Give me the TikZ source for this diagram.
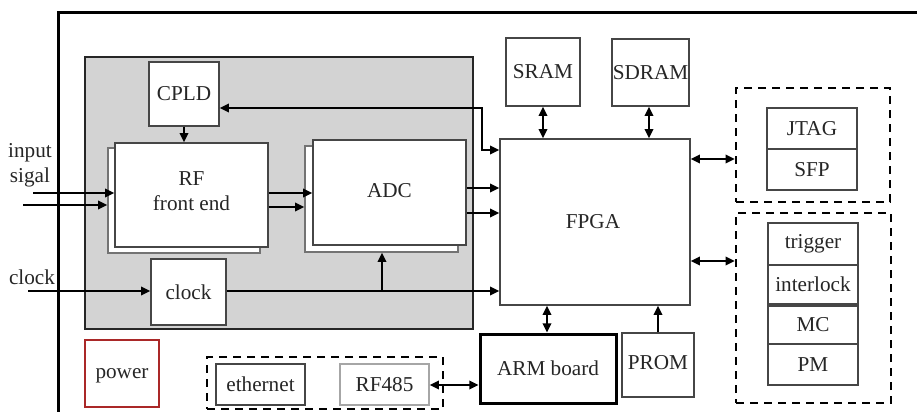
\documentclass[tikz,border=0pt]{standalone}
\usepackage{fontspec}
\setmainfont{Liberation Serif}
\usetikzlibrary{arrows.meta, fit}

\begin{document}
\begin{tikzpicture}[x=0.5pt, y=-0.5pt,
  font=\fontsize{10.6}{12.5}\selectfont, text=black!85,
  box/.style={draw=boxline, line width=0.6pt, fill=white, inner sep=0pt},
  grp/.style={draw=black, line width=1.3pt, dash pattern=on 4pt off 3pt, inner sep=0pt},
  sig/.style={line width=1pt, -{Triangle[length=4.6pt,width=4.2pt]}},
  bisig/.style={line width=1pt, {Triangle[length=4.6pt,width=4.2pt]}-{Triangle[length=4.6pt,width=4.2pt]}}]

\definecolor{boxline}{RGB}{70, 70, 70}
\definecolor{panelgray}{RGB}{211, 211, 211}
\definecolor{powerred}{RGB}{170, 40, 40}

\useasboundingbox (0,0) rectangle (917,412);

% outer frame and analog panel
\draw[line width=1.5pt] (58,412) -- (58,12) -- (917,12);
\draw[fill=panelgray, draw=black!85, line width=1.3pt] (85,57) rectangle (473,329);

% analog chain
\node[box, fit={(149,62) (219,126)}, label=center:CPLD] (cpld) {};
\node[box, draw=black!55, fit={(108,148) (260,253)}] (rfback) {};
\node[box, fit={(115,143) (268,247)},
  label={[align=center, yshift=2pt]center:RF\\front end}] (rf) {};
\node[box, draw=black!55, fit={(305,146) (458,252)}] (adcback) {};
\node[box, fit={(313,140) (466,245)}, label={[yshift=1pt]center:ADC}] (adc) {};
\node[box, fit={(151,259) (226,325)}, label=center:clock] (clk) {};

% digital side
\node[box, fit={(500,139) (690,305)}, label={[xshift=-1pt]center:FPGA}] (fpga) {};
\node[box, fit={(506,38) (580,106)}, label=center:SRAM] (sram) {};
\node[box, fit={(612,39) (689,106)}, label=center:SDRAM] (sdram) {};
\node[grp, fit={(736,88) (890,202)}] (io) {};
\node[box, fit={(767,108) (857,149)}, label=center:JTAG] (jtag) {};
\node[box, fit={(767,149) (857,190)}, label=center:SFP] (sfp) {};
\node[grp, fit={(736,213) (891,403)}] (ctrl) {};
\node[box, fit={(768,223) (858,265)}, label=center:trigger] (trig) {};
\node[box, fit={(768,265) (858,304)}, label=center:interlock] (ilk) {};
\node[box, fit={(768,306) (858,344)}, label=center:MC] (mc) {};
\node[box, fit={(768,344) (858,385)}, label=center:PM] (pm) {};
\node[box, draw=black, line width=1.5pt, fit={(480,334) (616,403)}, label=center:ARM board] (arm) {};
\node[box, fit={(622,333) (694,397)}, label={[yshift=1pt]center:PROM}] (prom) {};

% bottom row
\node[box, draw=powerred, line width=1.3pt, fit={(85,340) (159,407)}, label={[yshift=-1pt]center:power}] (power) {};
\node[grp, fit={(207,357) (443,409)}] (net) {};
\node[box, fit={(216,364) (305,405)}, label=center:ethernet] (eth) {};
\node[box, draw=black!35, fit={(340,364) (429,405)}, label=center:RF485] (rs) {};

% outside labels
\node[align=center] (insiglbl) at (30,165) {input\\sigal};
\node (clklbl) at (32,277) {clock};

\coordinate (insigA) at (33,193);
\coordinate (insigB) at (23,205);
\coordinate (clkin) at (28,291);
\coordinate (clkfork) at (382,291);

% connectors
\draw[sig] (insigA) -- (rf.west |- insigA);
\draw[sig] (insigB) -- (rfback.west |- insigB);
\draw[sig] (cpld.south) -- (cpld.south |- rf.north);
\draw[sig] (rf.east |- 0,193) -- (adc.west |- 0,193);
\draw[sig] (rf.east |- 0,207) -- (adcback.west |- 0,207);
\draw[sig] (adc.east |- 0,188) -- (fpga.west |- 0,188);
\draw[sig] (adc.east |- 0,213) -- (fpga.west |- 0,213);
\draw[bisig] (cpld.east |- 0,108) -| (482,150) -- (fpga.west |- 0,150);
\draw[sig] (clkin) -- (clk.west |- clkin);
\draw[sig] (clk.east |- clkin) -- (fpga.west |- clkin);
\draw[sig] (clkfork) -- (adcback.south -| clkfork);
\draw[bisig] (sram.south) -- (sram.south |- fpga.north);
\draw[bisig] (sdram.south -| 649,0) -- (fpga.north -| 649,0);
\draw[bisig] (fpga.east |- 0,159) -- (io.west |- 0,159);
\draw[bisig] (fpga.east |- 0,261) -- (ctrl.west |- 0,261);
\draw[bisig] (fpga.south -| 547,0) -- (arm.north -| 547,0);
\draw[sig] (prom.north) -- (prom.north |- fpga.south);
\draw[bisig] (rs.east |- 0,385) -- (arm.west |- 0,385);

\end{tikzpicture}
\end{document}
